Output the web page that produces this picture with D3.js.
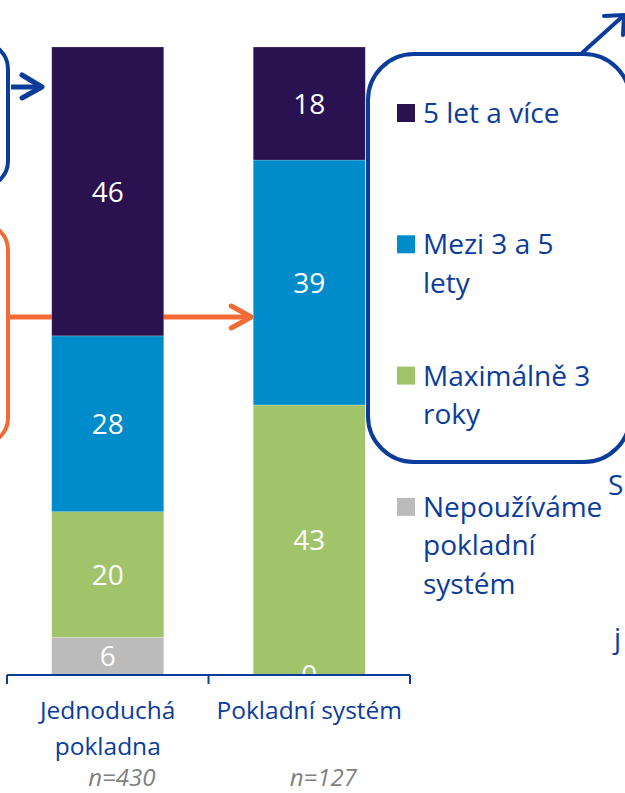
<!DOCTYPE html>
<meta charset="utf-8">
<html>
<head>
<script src="https://d3js.org/d3.v7.min.js"></script>
<style>
body { margin: 0; background: #fff; }
svg text { font-family: "Open Sans", Lato, sans-serif; }
</style>
</head>
<body>
<div id="chart"></div>
<script>
// categories and series
var categories = ["Jednoduchá pokladna", "Pokladní systém"];
var catLines = [["Jednoduchá", "pokladna"], ["Pokladní systém"]];
var sampleSizes = ["n=430", "n=127"];
var seriesNames = ["Nepoužíváme pokladní systém", "Maximálně 3 roky", "Mezi 3 a 5 lety", "5 let a více"];
var nepouzivame = [6, 0];
var max3 = [20, 43];
var mezi3a5 = [28, 39];
var let5 = [46, 18];
var colors = ["#BBBBBB", "#A1C46B", "#008BCB", "#2A1150"];

// legend text, top to bottom
var legendItems = [
  {lines: ["5 let a více"], color: colors[3]},
  {lines: ["Mezi 3 a 5", "lety"], color: colors[2]},
  {lines: ["Maximálně 3", "roky"], color: colors[1]},
  {lines: ["Nepoužíváme", "pokladní", "systém"], color: colors[0]}
];

var W = 625, H = 793;
var blue = "#0B3C9C", orange = "#F26A36";

var svg = d3.select("#chart").append("svg")
  .attr("width", W).attr("height", H);

var x = d3.scaleBand()
  .domain(categories)
  .range([7, 410])
  .paddingInner(0.444)
  .paddingOuter(0.222);

var y = d3.scaleLinear().domain([0, 100]).range([675, 47]);

// table for stacking
var table = categories.map(function(c, i) {
  return {cat: c, s0: nepouzivame[i], s1: max3[i], s2: mezi3a5[i], s3: let5[i]};
});
var stack = d3.stack().keys(["s0", "s1", "s2", "s3"])(table);

// orange arrow line (behind bars)
var midY = 317;
svg.append("line")
  .attr("x1", 8).attr("x2", x(categories[1]) - 2)
  .attr("y1", midY).attr("y2", midY)
  .attr("stroke", orange).attr("stroke-width", 5);
svg.append("path")
  .attr("d", "M" + (x(categories[1]) - 22) + "," + (midY - 11) + " L" + (x(categories[1]) - 2) + "," + midY +
             " L" + (x(categories[1]) - 22) + "," + (midY + 11))
  .attr("fill", "none").attr("stroke", orange).attr("stroke-width", 5)
  .attr("stroke-linecap", "round").attr("stroke-linejoin", "round");

// orange box at left (mostly off-canvas)
svg.append("rect")
  .attr("x", -100).attr("y", 224).attr("width", 108).attr("height", 220)
  .attr("rx", 26).attr("fill", "none").attr("stroke", orange).attr("stroke-width", 4);

// blue box at left
svg.append("rect")
  .attr("x", -100).attr("y", 43).attr("width", 108).attr("height", 144)
  .attr("rx", 26).attr("fill", "none").attr("stroke", blue).attr("stroke-width", 4);
svg.append("line")
  .attr("x1", 11).attr("x2", 41).attr("y1", 87).attr("y2", 87)
  .attr("stroke", blue).attr("stroke-width", 5);
svg.append("path")
  .attr("d", "M22,75 L42,87 L22,98")
  .attr("fill", "none").attr("stroke", blue).attr("stroke-width", 5)
  .attr("stroke-linecap", "round").attr("stroke-linejoin", "round");

// bars
var clip = svg.append("clipPath").attr("id", "plotclip")
  .append("rect").attr("x", 0).attr("y", 0).attr("width", W).attr("height", 675);

var layers = svg.selectAll("g.layer").data(stack).enter()
  .append("g").attr("class", "layer")
  .attr("fill", function(d, i) { return colors[i]; });

layers.selectAll("rect").data(function(d) { return d; }).enter()
  .append("rect")
  .attr("x", function(d) { return x(d.data.cat); })
  .attr("y", function(d) { return y(d[1]); })
  .attr("width", x.bandwidth())
  .attr("height", function(d) { return y(d[0]) - y(d[1]); })
  .attr("stroke", "#ffffff").attr("stroke-opacity", 0.35).attr("stroke-width", 0.6);

// value labels
var labels = svg.append("g").attr("clip-path", "url(#plotclip)");
stack.forEach(function(layer) {
  layer.forEach(function(d) {
    labels.append("text")
      .attr("x", x(d.data.cat) + x.bandwidth() / 2)
      .attr("y", (y(d[0]) + y(d[1])) / 2)
      .attr("dy", "0.36em")
      .attr("text-anchor", "middle")
      .attr("fill", "#fff")
      .attr("font-size", 28)
      .text(d[1] - d[0]);
  });
});

// axis
var step = x.step();
var edges = [x.range()[0]].concat(categories.map(function(c) { return x(c) - x.paddingOuter() * step + step; }));
svg.append("line")
  .attr("x1", x.range()[0]).attr("x2", x.range()[1])
  .attr("y1", 675).attr("y2", 675)
  .attr("stroke", blue).attr("stroke-width", 2);
svg.selectAll("line.tick").data(edges).enter()
  .append("line").attr("class", "tick")
  .attr("x1", function(d) { return d; }).attr("x2", function(d) { return d; })
  .attr("y1", 675).attr("y2", 684)
  .attr("stroke", blue).attr("stroke-width", 2);

categories.forEach(function(c, i) {
  var cx = x(c) + x.bandwidth() / 2;
  catLines[i].forEach(function(line, j) {
    svg.append("text")
      .attr("x", cx).attr("y", 719 + j * 36)
      .attr("text-anchor", "middle")
      .attr("fill", blue).attr("font-size", 24.5)
      .text(line);
  });
  svg.append("text")
    .attr("x", cx + 14).attr("y", 786)
    .attr("text-anchor", "middle")
    .attr("fill", "#7F7F7F").attr("font-size", 24).attr("font-style", "italic")
    .text(sampleSizes[i]);
});

// legend box and arrow
svg.append("rect")
  .attr("x", 368).attr("y", 54).attr("width", 262).attr("height", 408)
  .attr("rx", 46).attr("fill", "none").attr("stroke", blue).attr("stroke-width", 4);
svg.append("line")
  .attr("x1", 582).attr("y1", 53).attr("x2", 623).attr("y2", 16)
  .attr("stroke", blue).attr("stroke-width", 4);
svg.append("path")
  .attr("d", "M604,16 L624,15 L623,35")
  .attr("fill", "none").attr("stroke", blue).attr("stroke-width", 4)
  .attr("stroke-linecap", "round").attr("stroke-linejoin", "round");

var legend = svg.append("g");
legendItems.forEach(function(item, i) {
  var top = 104 + i * 131.3;
  legend.append("rect")
    .attr("x", 397).attr("y", top).attr("width", 18).attr("height", 18)
    .attr("fill", item.color);
  item.lines.forEach(function(line, j) {
    legend.append("text")
      .attr("x", 423).attr("y", top + 19 + j * 38.5)
      .attr("fill", blue).attr("font-size", 28)
      .text(line);
  });
});

// text fragments at right edge
svg.append("text").attr("x", 608).attr("y", 495)
  .attr("fill", blue).attr("font-size", 28).text("S");
svg.append("text").attr("x", 614).attr("y", 648)
  .attr("fill", blue).attr("font-size", 28).text("j");
</script>
</body>
</html>
